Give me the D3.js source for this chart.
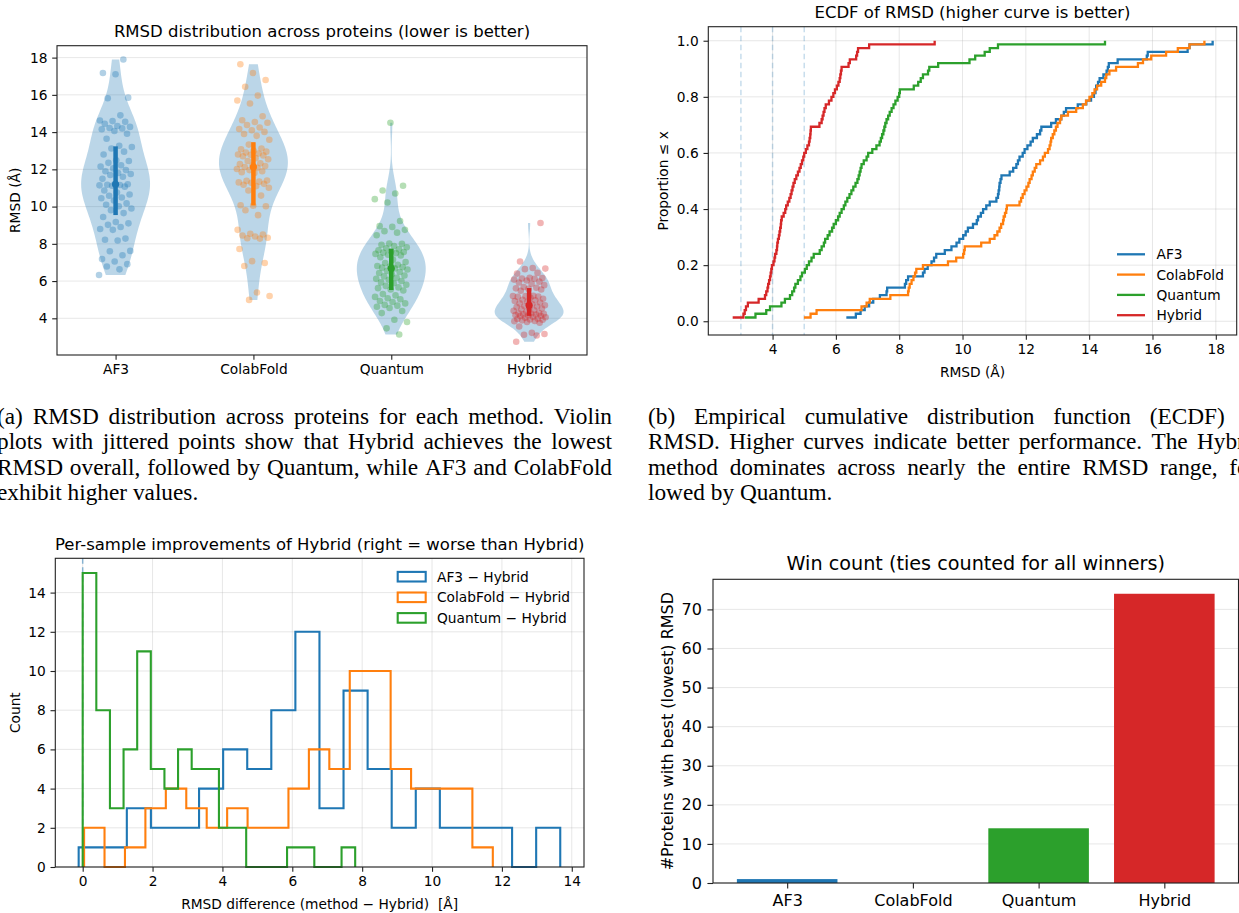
<!DOCTYPE html>
<html>
<head>
<meta charset="utf-8">
<script src="https://cdn.jsdelivr.net/npm/d3@7/dist/d3.min.js"></script>
<style>
  body { margin: 0; background: #fff; overflow: hidden; }
  svg text { font-family: "DejaVu Sans", sans-serif; fill: #000; }
  .cap text { font-family: "Liberation Serif", "Times New Roman", serif; }
</style>
</head>
<body>
<svg id="fig" width="1239" height="913"></svg>
<script>
// ---------- data ----------
const methods = ["AF3", "ColabFold", "Quantum", "Hybrid"];
const colors = ["#1f77b4", "#ff7f0e", "#2ca02c", "#d62728"];

// per-protein RMSD (Å), sorted, 75 proteins
const rmsdAF3 = [6.33, 6.63, 6.78, 6.91, 7.05, 7.18, 7.39, 7.60, 7.62, 8.18, 8.22, 8.28, 8.75, 8.80, 8.90,
  9.02, 9.10, 9.17, 9.44, 9.65, 9.81, 9.90, 10.02, 10.10, 10.17, 10.33, 10.45, 10.49, 10.58, 10.65,
  10.75, 10.86, 11.07, 11.12, 11.14, 11.16, 11.17, 11.20, 11.23, 11.49, 11.60, 11.70, 11.75, 11.80, 11.90,
  11.96, 12.05, 12.15, 12.22, 12.35, 12.45, 12.49, 12.80, 12.95, 13.12, 13.20, 13.27, 13.64, 13.91, 14.06,
  14.15, 14.20, 14.22, 14.28, 14.33, 14.45, 14.55, 14.59, 14.62, 14.90, 15.82, 15.85, 17.11, 17.17, 17.90];
const rmsdColabFold = [4.99, 5.20, 5.39, 6.81, 6.97, 7.07, 7.72, 8.28, 8.30, 8.33, 8.39, 8.45, 8.50, 8.54, 8.75,
  9.54, 9.80, 10.02, 10.05, 10.07, 10.59, 10.86, 11.01, 11.10, 11.17, 11.22, 11.28, 11.30, 11.34, 11.38,
  11.40, 11.80, 11.85, 11.90, 11.96, 12.02, 12.08, 12.12, 12.18, 12.22, 12.28, 12.33, 12.45, 12.54, 12.60,
  12.70, 12.75, 12.78, 12.80, 12.85, 12.90, 12.95, 13.00, 13.08, 13.12, 13.33, 13.59, 13.80, 13.90, 14.01,
  14.10, 14.17, 14.25, 14.38, 14.50, 14.54, 14.64, 14.85, 15.54, 15.70, 15.96, 16.43, 16.80, 17.17, 17.64];
const rmsdQuantum = [3.13, 3.46, 3.80, 3.92, 4.28, 4.39, 4.55, 4.62, 4.68, 4.72, 4.80, 4.88, 4.93, 5.02, 5.08,
  5.15, 5.23, 5.30, 5.49, 5.55, 5.62, 5.66, 5.74, 5.80, 5.88, 5.93, 6.00, 6.07, 6.12, 6.18,
  6.25, 6.30, 6.36, 6.43, 6.49, 6.55, 6.62, 6.68, 6.72, 6.75, 6.78, 6.81, 6.88, 6.97, 7.02,
  7.15, 7.28, 7.38, 7.42, 7.46, 7.50, 7.53, 7.56, 7.60, 7.65, 7.70, 7.76, 7.82, 7.88, 7.95,
  8.00, 8.02, 8.46, 8.60, 8.68, 8.75, 8.91, 8.95, 9.23, 10.22, 10.40, 10.70, 10.86, 11.12, 14.50];
const rmsdHybrid = [2.74, 3.08, 3.12, 3.16, 3.22, 3.56, 3.76, 3.80, 3.84, 3.86, 3.89, 3.92, 3.94, 3.96, 3.98,
  4.03, 4.06, 4.08, 4.12, 4.14, 4.15, 4.17, 4.20, 4.22, 4.24, 4.26, 4.27, 4.29, 4.35, 4.40,
  4.43, 4.48, 4.53, 4.57, 4.60, 4.63, 4.66, 4.70, 4.75, 4.80, 4.85, 4.89, 4.93, 4.97, 5.00,
  5.05, 5.10, 5.15, 5.17, 5.19, 5.20, 5.21, 5.48, 5.55, 5.58, 5.61, 5.64, 5.68, 5.78, 5.86,
  5.92, 5.97, 6.03, 6.08, 6.12, 6.14, 6.16, 6.18, 6.40, 6.44, 6.64, 6.67, 6.70, 7.05, 9.12];
const rmsdAll = [rmsdAF3, rmsdColabFold, rmsdQuantum, rmsdHybrid];

// per-sample differences (method - Hybrid): 20-bin histograms
const diffLabels = ["AF3 \u2212 Hybrid", "ColabFold \u2212 Hybrid", "Quantum \u2212 Hybrid"];
const diffRangeAF3 = [-0.115, 13.67];
const diffCountsAF3 = [1, 1, 3, 2, 2, 4, 6, 5, 8, 12, 3, 9, 5, 2, 4, 2, 2, 2, 0, 2];
const diffRangeColabFold = [0.04, 11.74];
const diffCountsColabFold = [2, 0, 1, 3, 4, 3, 2, 3, 2, 2, 4, 6, 5, 10, 10, 5, 4, 4, 4, 1];
const diffRangeQuantum = [0.0, 7.8];
const diffCountsQuantum = [15, 8, 3, 6, 11, 5, 4, 6, 5, 5, 2, 2, 0, 0, 0, 1, 1, 0, 0, 1];

// wins (ties counted for all winners)
const winCounts = [1, 0, 14, 74];

const ecdfMarks = [3, 4, 5];

const captionA = [
  "(a) RMSD distribution across proteins for each method. Violin",
  "plots with jittered points show that Hybrid achieves the lowest",
  "RMSD overall, followed by Quantum, while AF3 and ColabFold",
  "exhibit higher values."];
const captionB = [
  "(b) Empirical cumulative distribution function (ECDF) of",
  "RMSD. Higher curves indicate better performance. The Hybrid",
  "method dominates across nearly the entire RMSD range, fol-",
  "lowed by Quantum."];

// ---------- helpers ----------
const svg = d3.select("#fig");
const GRID = "#b0b0b0";

function frame(g, x0, x1, y0, y1) {
  g.append("rect").attr("x", x0).attr("y", y1).attr("width", x1 - x0).attr("height", y0 - y1)
    .attr("fill", "none").attr("stroke", "#222").attr("stroke-width", 1.1);
}
function styleAxis(ax, fs) {
  ax.select(".domain").remove();
  ax.selectAll("line").attr("stroke", "#222").attr("stroke-width", 1.1);
  ax.selectAll("text").style("font-size", fs + "px").style("font-family", "DejaVu Sans").attr("fill", "#000");
}
function hgrid(g, y, ticks, x0, x1) {
  g.selectAll(null).data(ticks).enter().append("line")
    .attr("x1", x0).attr("x2", x1).attr("y1", d => y(d)).attr("y2", d => y(d))
    .attr("stroke", GRID).attr("stroke-opacity", 0.3).attr("stroke-width", 1);
}
function vgrid(g, x, ticks, y0, y1) {
  g.selectAll(null).data(ticks).enter().append("line")
    .attr("y1", y0).attr("y2", y1).attr("x1", d => x(d)).attr("x2", d => x(d))
    .attr("stroke", GRID).attr("stroke-opacity", 0.3).attr("stroke-width", 1);
}
function label(g, txt, x, y, fs, rot) {
  const t = g.append("text").attr("text-anchor", "middle").style("font-size", fs + "px")
    .style("white-space", "pre").text(txt);
  if (rot) t.attr("transform", `translate(${x},${y}) rotate(-90)`);
  else t.attr("x", x).attr("y", y);
  return t;
}

// ---------- (a) violin ----------
{
  const L = 57, R = 587, T = 45.7, B = 355;
  const x = d3.scaleLinear().domain([0.575, 4.42]).range([L, R]);
  const y = d3.scaleLinear().domain([2.03, 18.64]).range([B, T]);
  const g = svg.append("g");
  const yt = d3.range(4, 19, 2);
  hgrid(g, y, yt, L, R);

  rmsdAll.forEach((vals, m) => {
    const pos = m + 1;
    const n = vals.length;
    const bw = d3.deviation(vals) * Math.pow(n, -0.2);
    const lo = d3.min(vals), hi = d3.max(vals);
    const pts = d3.range(100).map(i => lo + (hi - lo) * i / 99);
    const dens = pts.map(p => [p, d3.mean(vals, v => Math.exp(-0.5 * ((p - v) / bw) ** 2))]);
    const mx = d3.max(dens, d => d[1]);
    const area = d3.area()
      .y(d => y(d[0]))
      .x0(d => x(pos - 0.25 * d[1] / mx))
      .x1(d => x(pos + 0.25 * d[1] / mx));
    g.append("path").attr("d", area(dens)).attr("fill", "#1f77b4").attr("fill-opacity", 0.3);
  });

  rmsdAll.forEach((vals, m) => {
    const pos = m + 1;
    g.selectAll(null).data(vals).enter().append("circle")
      .attr("cx", (d, i) => x(pos + (((i * 0.6180339887 + m * 0.37) % 1) - 0.5) * 0.24))
      .attr("cy", d => y(d)).attr("r", 3.3)
      .attr("fill", colors[m]).attr("fill-opacity", 0.35);
  });

  rmsdAll.forEach((vals, m) => {
    const pos = m + 1;
    const q1 = d3.quantile(vals, 0.25), q2 = d3.quantile(vals, 0.5), q3 = d3.quantile(vals, 0.75);
    g.append("line").attr("x1", x(pos)).attr("x2", x(pos)).attr("y1", y(q1)).attr("y2", y(q3))
      .attr("stroke", colors[m]).attr("stroke-width", 4.5);
    g.append("circle").attr("cx", x(pos)).attr("cy", y(q2)).attr("r", 3.6).attr("fill", colors[m]);
  });

  frame(g, L, R, B, T);
  const ax = g.append("g").attr("transform", `translate(0,${B})`)
    .call(d3.axisBottom(x).tickValues([1, 2, 3, 4]).tickFormat((d, i) => methods[i]).tickSize(4.8).tickPadding(4.8));
  styleAxis(ax, 13.75);
  const ay = g.append("g").attr("transform", `translate(${L},0)`)
    .call(d3.axisLeft(y).tickValues(yt).tickFormat(d3.format("d")).tickSize(4.8).tickPadding(4.8));
  styleAxis(ay, 13.75);
  label(g, "RMSD distribution across proteins (lower is better)", (L + R) / 2, T - 8.3, 16.5);
  label(g, "RMSD (\u00c5)", 19.5, (T + B) / 2, 13.75, true);
}

// ---------- (b) ECDF ----------
{
  const L = 708.3, R = 1236.7, T = 26.7, B = 335;
  const x = d3.scaleLinear().domain([1.97, 18.66]).range([L, R]);
  const y = d3.scaleLinear().domain([-0.049, 1.05]).range([B, T]);
  const g = svg.append("g");
  const xt = d3.range(4, 19, 2), yt = d3.range(0, 1.01, 0.2);
  hgrid(g, y, yt, L, R);
  vgrid(g, x, xt, T, B);
  g.selectAll(null).data(ecdfMarks).enter().append("line")
    .attr("x1", d => x(d)).attr("x2", d => x(d)).attr("y1", T).attr("y2", B)
    .attr("stroke", "#1f77b4").attr("stroke-opacity", 0.25).attr("stroke-width", 1.5)
    .attr("stroke-dasharray", "5.5,3.5");

  const line = d3.line().x(d => x(d[0])).y(d => y(d[1])).curve(d3.curveStepAfter);
  rmsdAll.forEach((vals, m) => {
    const s = vals.slice().sort(d3.ascending);
    const pts = s.map((v, i) => [v, (i + 1) / s.length]);
    g.append("path").attr("d", line(pts)).attr("fill", "none")
      .attr("stroke", colors[m]).attr("stroke-width", 2.3);
  });

  frame(g, L, R, B, T);
  const ax = g.append("g").attr("transform", `translate(0,${B})`)
    .call(d3.axisBottom(x).tickValues(xt).tickFormat(d3.format("d")).tickSize(4.8).tickPadding(4.8));
  styleAxis(ax, 13.75);
  const ay = g.append("g").attr("transform", `translate(${L},0)`)
    .call(d3.axisLeft(y).tickValues(yt).tickFormat(d3.format(".1f")).tickSize(4.8).tickPadding(4.8));
  styleAxis(ay, 13.75);
  label(g, "ECDF of RMSD (higher curve is better)", (L + R) / 2, T - 8.3, 16.5);
  label(g, "RMSD (\u00c5)", (L + R) / 2, 376.5, 13.75);
  label(g, "Proportion \u2264 x", 667.5, (T + B) / 2, 13.75, true);

  methods.forEach((name, m) => {
    const yy = 254.3 + m * 20.3;
    g.append("line").attr("x1", 1117).attr("x2", 1145).attr("y1", yy).attr("y2", yy)
      .attr("stroke", colors[m]).attr("stroke-width", 2.3);
    g.append("text").attr("x", 1156.5).attr("y", yy + 5).style("font-size", "13.75px").text(name);
  });
}

// ---------- (c) histogram of differences ----------
{
  const L = 55.3, R = 584, T = 558.3, B = 867;
  const x = d3.scaleLinear().domain([-0.784, 14.35]).range([L, R]);
  const y = d3.scaleLinear().domain([0, 15.75]).range([B, T]);
  const g = svg.append("g");
  const xt = d3.range(0, 15, 2), yt = d3.range(0, 15, 2);
  hgrid(g, y, yt, L, R);
  vgrid(g, x, xt, T, B);
  g.append("line").attr("x1", x(0)).attr("x2", x(0)).attr("y1", T).attr("y2", B)
    .attr("stroke", "#1f77b4").attr("stroke-opacity", 0.5).attr("stroke-width", 1.5)
    .attr("stroke-dasharray", "5.5,3.5");

  const series = [[diffRangeAF3, diffCountsAF3], [diffRangeColabFold, diffCountsColabFold], [diffRangeQuantum, diffCountsQuantum]];
  series.forEach(([rng, counts], m) => {
    const w = (rng[1] - rng[0]) / counts.length;
    const pts = [[rng[0], 0]];
    counts.forEach((c, i) => { pts.push([rng[0] + i * w, c]); pts.push([rng[0] + (i + 1) * w, c]); });
    pts.push([rng[1], 0]);
    g.append("path").attr("d", d3.line().x(d => x(d[0])).y(d => y(d[1]))(pts))
      .attr("fill", "none").attr("stroke", colors[m]).attr("stroke-width", 2.1).attr("stroke-linejoin", "miter");
  });

  frame(g, L, R, B, T);
  const ax = g.append("g").attr("transform", `translate(0,${B})`)
    .call(d3.axisBottom(x).tickValues(xt).tickFormat(d3.format("d")).tickSize(4.8).tickPadding(4.8));
  styleAxis(ax, 13.75);
  const ay = g.append("g").attr("transform", `translate(${L},0)`)
    .call(d3.axisLeft(y).tickValues(yt).tickFormat(d3.format("d")).tickSize(4.8).tickPadding(4.8));
  styleAxis(ay, 13.75);
  label(g, "Per-sample improvements of Hybrid (right = worse than Hybrid)", (L + R) / 2, T - 8.3, 16.5);
  label(g, "RMSD difference (method \u2212 Hybrid)  [\u00c5]", (L + R) / 2, 908.5, 13.75);
  label(g, "Count", 19.5, (T + B) / 2, 13.75, true);

  diffLabels.forEach((name, m) => {
    const yy = 576.7 + m * 20.6;
    g.append("rect").attr("x", 397.7).attr("y", yy - 4.8).attr("width", 28).attr("height", 9.6)
      .attr("fill", "none").attr("stroke", colors[m]).attr("stroke-width", 2.1);
    g.append("text").attr("x", 437).attr("y", yy + 5).style("font-size", "13.75px").text(name);
  });
}

// ---------- (d) win counts ----------
{
  const L = 713, R = 1238.5, T = 579.3, B = 883;
  const x = d3.scaleLinear().domain([-0.59, 3.59]).range([L, R]);
  const y = d3.scaleLinear().domain([0, 77.7]).range([B, T]);
  const g = svg.append("g");
  const yt = d3.range(0, 71, 10);
  hgrid(g, y, yt, L, R);
  g.selectAll(null).data(winCounts).enter().append("rect")
    .attr("x", (d, i) => x(i - 0.4)).attr("width", x(0.4) - x(-0.4))
    .attr("y", d => y(d)).attr("height", d => B - y(d))
    .attr("fill", (d, i) => colors[i]);
  frame(g, L, R, B, T);
  const ax = g.append("g").attr("transform", `translate(0,${B})`)
    .call(d3.axisBottom(x).tickValues([0, 1, 2, 3]).tickFormat((d, i) => methods[i]).tickSize(5.6).tickPadding(5.6));
  styleAxis(ax, 16);
  const ay = g.append("g").attr("transform", `translate(${L},0)`)
    .call(d3.axisLeft(y).tickValues(yt).tickFormat(d3.format("d")).tickSize(5.6).tickPadding(5.6));
  styleAxis(ay, 16);
  label(g, "Win count (ties counted for all winners)", (L + R) / 2, T - 9.6, 19.2);
  label(g, "#Proteins with best (lowest) RMSD", 673, (T + B) / 2, 16, true);
}

// ---------- captions (justified lines) ----------
function caption(lines, x0, width, y0, lh, fs) {
  const g = svg.append("g").attr("class", "cap");
  lines.forEach((ln, k) => {
    const yy = y0 + k * lh;
    const words = ln.split(" ");
    const last = k === lines.length - 1;
    const tmp = g.append("text").style("font-size", fs + "px");
    const widths = words.map(w => { tmp.text(w); return tmp.node().getComputedTextLength(); });
    tmp.text("a a");
    const withSpace = tmp.node().getComputedTextLength();
    tmp.text("aa");
    const sp = withSpace - tmp.node().getComputedTextLength();
    tmp.remove();
    const total = d3.sum(widths);
    const gap = last ? sp : (width - total) / (words.length - 1);
    let cx = x0;
    words.forEach((w, i) => {
      g.append("text").attr("x", cx).attr("y", yy).style("font-size", fs + "px").text(w);
      cx += widths[i] + gap;
    });
  });
}
caption(captionA, -3, 615, 424, 25.3, 23.3);
caption(captionB, 648, 615, 424, 25.3, 23.3);
</script>
</body>
</html>
